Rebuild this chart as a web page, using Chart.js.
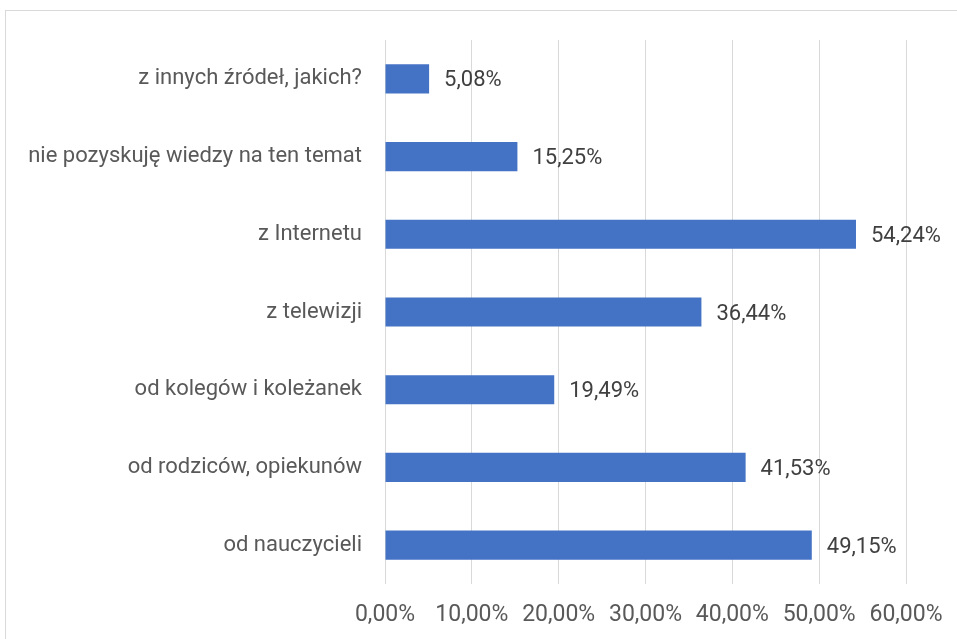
<!DOCTYPE html>
<html>
<head>
<meta charset="utf-8">
<script src="https://cdn.jsdelivr.net/npm/chart.js@4.4.0/dist/chart.umd.min.js"></script>
<style>
    html, body { margin: 0; padding: 0; background: #fff; }
    #frame {
        position: absolute; left: 5px; top: 10px; width: 980px; height: 660px;
        border: 1px solid #d9d9d9; box-sizing: border-box;
    }
    #wrap { position: absolute; left: 0; top: 0; width: 957px; height: 639px; }
</style>
</head>
<body>
<div id="frame"></div>
<div id="wrap"><canvas id="chart" width="957" height="639"></canvas></div>
<script>
const categories = [
    'z innych źródeł, jakich?',
    'nie pozyskuję wiedzy na ten temat',
    'z Internetu',
    'z telewizji',
    'od kolegów i koleżanek',
    'od rodziców, opiekunów',
    'od nauczycieli'
];
const values = [5.08, 15.25, 54.24, 36.44, 19.49, 41.53, 49.15];
const tickValues = [0, 10, 20, 30, 40, 50, 60];

const FONT = 'Roboto, "Liberation Sans", sans-serif';
const pct = v => v.toFixed(2).replace('.', ',') + '%';

// value labels to the right of each bar
const valueLabels = {
    id: 'valueLabels',
    afterDatasetsDraw(chart) {
        const ctx = chart.ctx;
        const meta = chart.getDatasetMeta(0);
        ctx.save();
        ctx.font = '22px ' + FONT;
        ctx.fillStyle = '#404040';
        ctx.textAlign = 'left';
        ctx.textBaseline = 'middle';
        meta.data.forEach((bar, i) => {
            ctx.fillText(pct(values[i]), bar.x + 15, bar.y + 2);
        });
        ctx.restore();
    }
};

new Chart(document.getElementById('chart').getContext('2d'), {
    type: 'bar',
    data: {
        labels: categories,
        datasets: [{
            data: values,
            backgroundColor: '#4472C4',
            barPercentage: 0.75,
            categoryPercentage: 0.5
        }]
    },
    plugins: [valueLabels],
    options: {
        indexAxis: 'y',
        responsive: false,
        animation: false,
        layout: { padding: { top: 40, right: 30, left: 0, bottom: 0 } },
        plugins: { legend: { display: false }, tooltip: { enabled: false } },
        scales: {
            x: {
                min: 0,
                max: 60,
                afterBuildTicks: s => { s.ticks = tickValues.map(v => ({ value: v })); },
                afterFit: s => { s.height = 639 - 584; s.paddingRight = 51; },
                grid: { color: '#d9d9d9', lineWidth: 1, drawTicks: false },
                border: { display: false },
                ticks: {
                    padding: 17,
                    color: '#595959',
                    font: { family: FONT, size: 23 },
                    callback: v => pct(v)
                }
            },
            y: {
                afterFit: s => { s.width = 385; },
                grid: { display: false },
                border: { display: false },
                ticks: {
                    padding: 15,
                    color: '#595959',
                    font: { family: FONT, size: 22 }
                }
            }
        }
    }
});
</script>
</body>
</html>
